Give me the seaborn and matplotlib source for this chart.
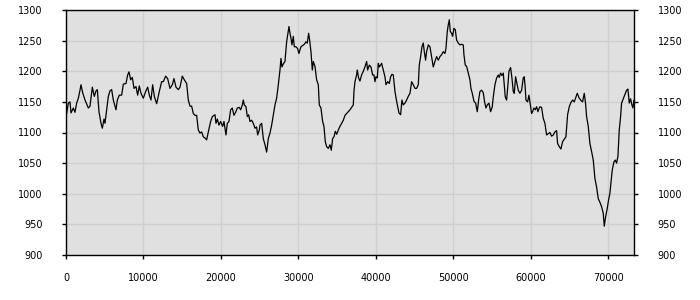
import matplotlib
matplotlib.use("Agg")
import matplotlib.pyplot as plt
import seaborn as sns
import pandas as pd

# ---- data ----
x_vals = [
    0, 86, 301, 516, 645, 946, 1161, 1376, 1591, 1806, 1935, 2150, 2452, 2882, 3097, 3398,
    3656, 3871, 4043, 4258, 4516, 4688, 4903, 5032, 5247, 5462, 5677, 5892, 6107, 6452,
    6624, 6882, 7183, 7398, 7742, 7957, 8129, 8344, 8559, 8774, 9032, 9247, 9462, 9677,
    9978, 10280, 10537, 10753, 10968, 11183, 11398, 11699, 12043, 12344, 12559, 12860,
    13118, 13419, 13720, 13935, 14193, 14494, 14709, 15010, 15268, 15569, 15785, 16000,
    16215, 16430, 16645, 16860, 17075, 17290, 17505, 17720, 17935, 18151, 18366, 18667,
    18882, 19226, 19355, 19527, 19742, 19957, 20215, 20387, 20645, 20817, 21032, 21247,
    21462, 21677, 21892, 22107, 22365,
    22537, 22752, 22882, 23011, 23226, 23398, 23570, 23742, 23957, 24172, 24387, 24602,
    24731, 24946,
    25032, 25247, 25462, 25677, 25892, 26108, 26323, 26538, 26753, 26968, 27183, 27398,
    27613, 27742, 27871, 28043, 28258, 28473, 28602, 28774, 28903, 29032, 29161, 29333,
    29462, 29677, 29892, 30064, 30194, 30323, 30538, 30753, 30968, 31140, 31312, 31441,
    31613, 31785, 31914, 32129, 32344, 32559, 32688, 32903, 33118, 33290, 33462, 33634,
    33849, 34064, 34236, 34408, 34581, 34753, 34925, 35140, 35355, 35570, 35785, 36000,
    36215, 36430, 36645, 36860, 37075, 37161, 37290, 37505, 37591, 37763,
    37935, 38150, 38365, 38581, 38796, 38925, 39140, 39355, 39570, 39742, 39871, 40000,
    40172, 40301, 40430, 40602, 40731, 40946, 41161, 41290, 41505, 41720, 41892, 42064,
    42236, 42451, 42666, 42795, 42967, 43182, 43354, 43526, 43741, 43956, 44171, 44387,
    44602, 44817, 45032, 45247, 45462, 45591, 45763, 45935, 46107, 46236, 46408, 46537,
    46752, 46967, 47182, 47397, 47612, 47828, 48043, 48258, 48473, 48688, 48903, 49032,
    49204, 49333, 49462, 49591,
    49763, 49892, 50064, 50236, 50408, 50623, 50838, 51053, 51268, 51354, 51526, 51698,
    51914, 52129, 52258, 52430, 52645, 52860, 53075, 53247, 53419, 53634, 53849, 54021,
    54193, 54365, 54580, 54795, 55010, 55139, 55354, 55569, 55784, 55913, 56086, 56258,
    56430, 56559, 56688, 56860, 57032, 57161, 57376, 57548, 57720, 57849, 58021, 58150,
    58365, 58580, 58795, 59010, 59139, 59268, 59354, 59569, 59741, 59870, 60085, 60214,
    60386, 60559, 60731, 60903, 61075,
    61160, 61375, 61590, 61805, 62020, 62235, 62450, 62665, 62880, 63095, 63310, 63440,
    63655, 63870, 64085, 64300, 64515, 64730, 64945, 65160, 65375, 65590, 65805, 65977,
    66192, 66407, 66665, 66880, 67052, 67181, 67396, 67611, 67827, 68042, 68257, 68472,
    68687, 68902, 69117, 69332, 69461, 69633, 69848, 70020, 70193, 70322, 70494, 70709,
    70881, 71053, 71225, 71397, 71569, 71698, 71913, 72128, 72343, 72515, 72687, 72859,
    73031, 73160, 73300,
]
y_vals = [
    1140, 1131, 1148, 1150, 1132, 1140, 1133, 1148, 1156, 1169, 1178, 1165, 1153, 1140, 1143, 1174,
    1159, 1168, 1170, 1134, 1115, 1107, 1122, 1115, 1137, 1159, 1168, 1170, 1153, 1137,
    1153, 1161, 1161, 1179, 1180, 1194, 1199, 1186, 1190, 1172, 1175, 1161, 1176, 1164,
    1156, 1167, 1174, 1161, 1153, 1178, 1159, 1147, 1167, 1183, 1183, 1192,
    1188, 1172, 1178, 1188, 1174, 1170, 1174, 1192, 1186, 1180, 1153, 1143,
    1143, 1131, 1128, 1128, 1104, 1099, 1101, 1093, 1091, 1088, 1101, 1118,
    1126, 1129, 1115, 1122, 1112, 1118, 1110, 1118, 1096, 1115, 1118, 1137,
    1140, 1128, 1133, 1140, 1141,
    1137, 1145, 1153, 1145, 1142, 1126, 1129, 1118, 1120, 1115, 1107, 1109,
    1096, 1104,
    1112, 1115, 1090, 1080, 1068, 1090, 1099, 1112, 1129, 1145, 1156, 1178,
    1202, 1221, 1207, 1212, 1216, 1248, 1259, 1273, 1262, 1254, 1243, 1257,
    1240, 1240, 1237, 1229, 1235, 1240, 1242, 1244, 1248, 1246, 1262, 1251,
    1232, 1202, 1216, 1208, 1186, 1178, 1145, 1140, 1118, 1110, 1085, 1077,
    1074, 1080, 1071, 1090, 1093, 1102, 1097, 1104, 1110, 1115, 1120, 1128,
    1131, 1134, 1137, 1141, 1145, 1167, 1183, 1194, 1202, 1189,
    1184, 1194, 1200, 1207, 1216, 1202, 1210, 1207, 1194, 1194, 1183, 1191,
    1189, 1213, 1207, 1210, 1213, 1202, 1191, 1178, 1183, 1180, 1191, 1195,
    1194, 1167, 1151, 1143, 1132, 1129, 1153, 1145, 1148, 1153, 1159, 1164,
    1183, 1178, 1172, 1172, 1178, 1210, 1224, 1240, 1246, 1232, 1218, 1232,
    1243, 1240, 1224, 1207, 1216, 1224, 1218, 1224, 1227, 1232, 1229, 1237,
    1265, 1276, 1284, 1265,
    1262, 1257, 1270, 1268, 1251, 1246, 1243, 1244, 1243, 1227, 1210, 1208,
    1197, 1186, 1172, 1164, 1151, 1148, 1134, 1153, 1167, 1169, 1165, 1150,
    1140, 1145, 1148, 1134, 1142, 1158, 1178, 1189, 1194, 1190, 1197, 1193,
    1197, 1178, 1158, 1153, 1178, 1200, 1206, 1189, 1167, 1164, 1191, 1183,
    1169, 1164, 1169, 1189, 1191, 1172, 1153, 1150, 1161, 1150, 1131, 1134,
    1140, 1137, 1142, 1134, 1140,
    1142, 1141, 1123, 1115, 1096, 1098, 1100, 1094, 1096, 1101, 1103, 1082,
    1077, 1073, 1085, 1089, 1093, 1129, 1142, 1149, 1153, 1150, 1158, 1164,
    1157, 1153, 1150, 1164, 1147, 1126, 1110, 1082, 1069, 1055, 1025, 1011,
    992, 986, 979, 968, 947, 962, 976, 990, 1001, 1017, 1039, 1052,
    1055, 1050, 1061, 1104, 1126, 1148, 1155, 1162, 1169, 1171, 1148, 1155,
    1145, 1140, 1153,
]
x_ticks = [0, 10000, 20000, 30000, 40000, 50000, 60000, 70000]
y_ticks = [900, 950, 1000, 1050, 1100, 1150, 1200, 1250, 1300]

df = pd.DataFrame({"x": x_vals, "y": y_vals})

sns.set_style("white")
plt.rcParams["font.family"] = ["DejaVu Sans"]

fig = plt.figure(figsize=(7, 3), dpi=100)
ax = fig.add_axes([66 / 700, 45 / 300, 568 / 700, 245 / 300])
ax.set_facecolor("#e0e0e0")

sns.lineplot(data=df, x="x", y="y", ax=ax, color="black", linewidth=0.9,
             estimator=None, sort=False)

ax.set_xlim(0, 73300)
ax.set_ylim(900, 1300)
ax.set_xticks(x_ticks)
ax.set_yticks(y_ticks)
ax.set_xticklabels([str(t) for t in x_ticks])
ax.set_yticklabels([str(t) for t in y_ticks])
ax.set_xlabel("")
ax.set_ylabel("")
ax.grid(True, color="#cfcfcf", linewidth=1.0)
ax.set_axisbelow(True)

for s in ax.spines.values():
    s.set_visible(True)
    s.set_color("black")
    s.set_linewidth(1.0)

ax.tick_params(axis="y", which="both", left=True, right=True, labelleft=True,
               labelright=True, direction="out", length=3, width=1, color="black",
               labelsize=7, pad=14, labelcolor="black")
ax.tick_params(axis="x", which="both", bottom=True, top=False, direction="out",
               length=3, width=1, color="black", labelsize=7, pad=10, labelcolor="black")

fig.savefig("out.png", dpi=100, facecolor="white")
